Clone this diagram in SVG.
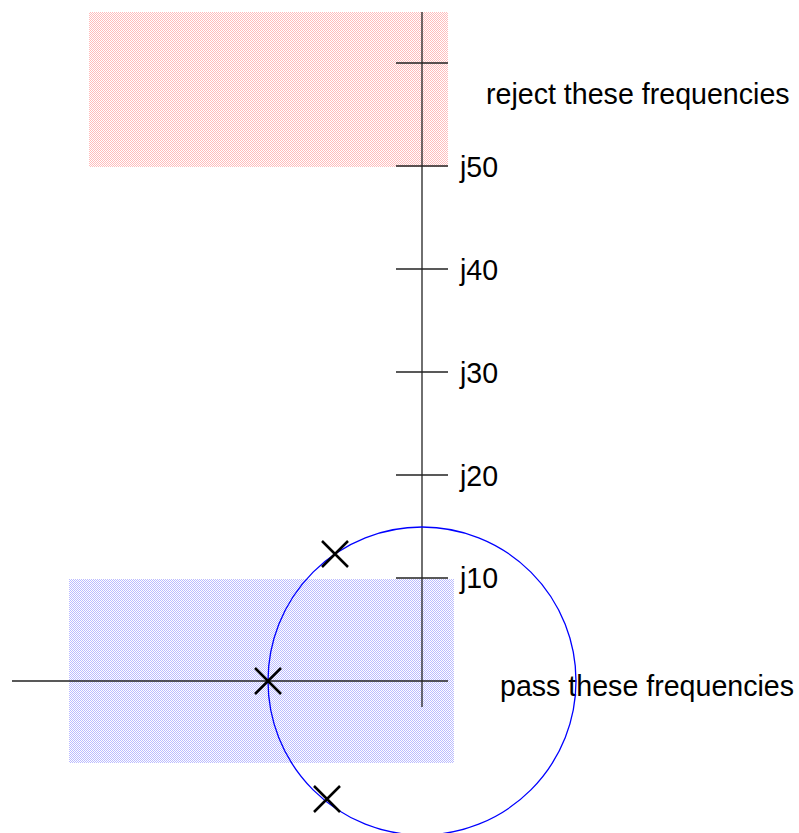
<svg xmlns="http://www.w3.org/2000/svg" width="799" height="833" viewBox="0 0 799 833">
<defs>
<pattern id="pinkChk" width="2" height="2" patternUnits="userSpaceOnUse"><rect width="2" height="2" fill="#ffffff"/><rect width="1" height="1" fill="#ffbcbc"/><rect x="1" y="1" width="1" height="1" fill="#ffbcbc"/></pattern>
<pattern id="blueChk" width="2" height="2" patternUnits="userSpaceOnUse"><rect width="2" height="2" fill="#ffffff"/><rect width="1" height="1" fill="#bcbcff"/><rect x="1" y="1" width="1" height="1" fill="#bcbcff"/></pattern>
</defs>
<style>
.ax{stroke:#222;stroke-width:1.3;fill:none}
.x{stroke:#000;stroke-width:2.5;fill:none}
.t{font-family:"Liberation Sans",Arial,sans-serif;font-size:28.6px;fill:#000}
</style>
<g id="regions">
<rect id="reject-region" x="89" y="12" width="359" height="155" fill="url(#pinkChk)"/>
<rect id="pass-region" x="69" y="579" width="385" height="184" fill="url(#blueChk)"/>
</g>
<g id="axes">
<line class="ax" x1="422" y1="12" x2="422" y2="707"/>
<line class="ax" x1="12" y1="681" x2="448" y2="681"/>
<line class="ax" x1="396" y1="63" x2="448" y2="63"/>
<line class="ax" x1="396" y1="166" x2="448" y2="166"/>
<line class="ax" x1="396" y1="269" x2="448" y2="269"/>
<line class="ax" x1="396" y1="372" x2="448" y2="372"/>
<line class="ax" x1="396" y1="475" x2="448" y2="475"/>
<line class="ax" x1="396" y1="578" x2="448" y2="578"/>
</g>
<g id="labels">
<text class="t" x="460" y="177">j50</text>
<text class="t" x="460" y="280">j40</text>
<text class="t" x="460" y="383">j30</text>
<text class="t" x="460" y="486">j20</text>
<text class="t" x="460" y="588">j10</text>
<text class="t" x="486" y="104">reject these frequencies</text>
<text class="t" x="500" y="696">pass these frequencies</text>
</g>
<g id="circle">
<circle cx="422" cy="681" r="154" fill="none" stroke="#0000ff" stroke-width="1.3"/>
</g>
<g id="poles">
<path class="x" d="M255 668 L281 694 M255 694 L281 668"/>
<path class="x" d="M322 541 L348 567 M322 567 L348 541"/>
<path class="x" d="M314 786 L340 812 M314 812 L340 786"/>
</g>
</svg>
